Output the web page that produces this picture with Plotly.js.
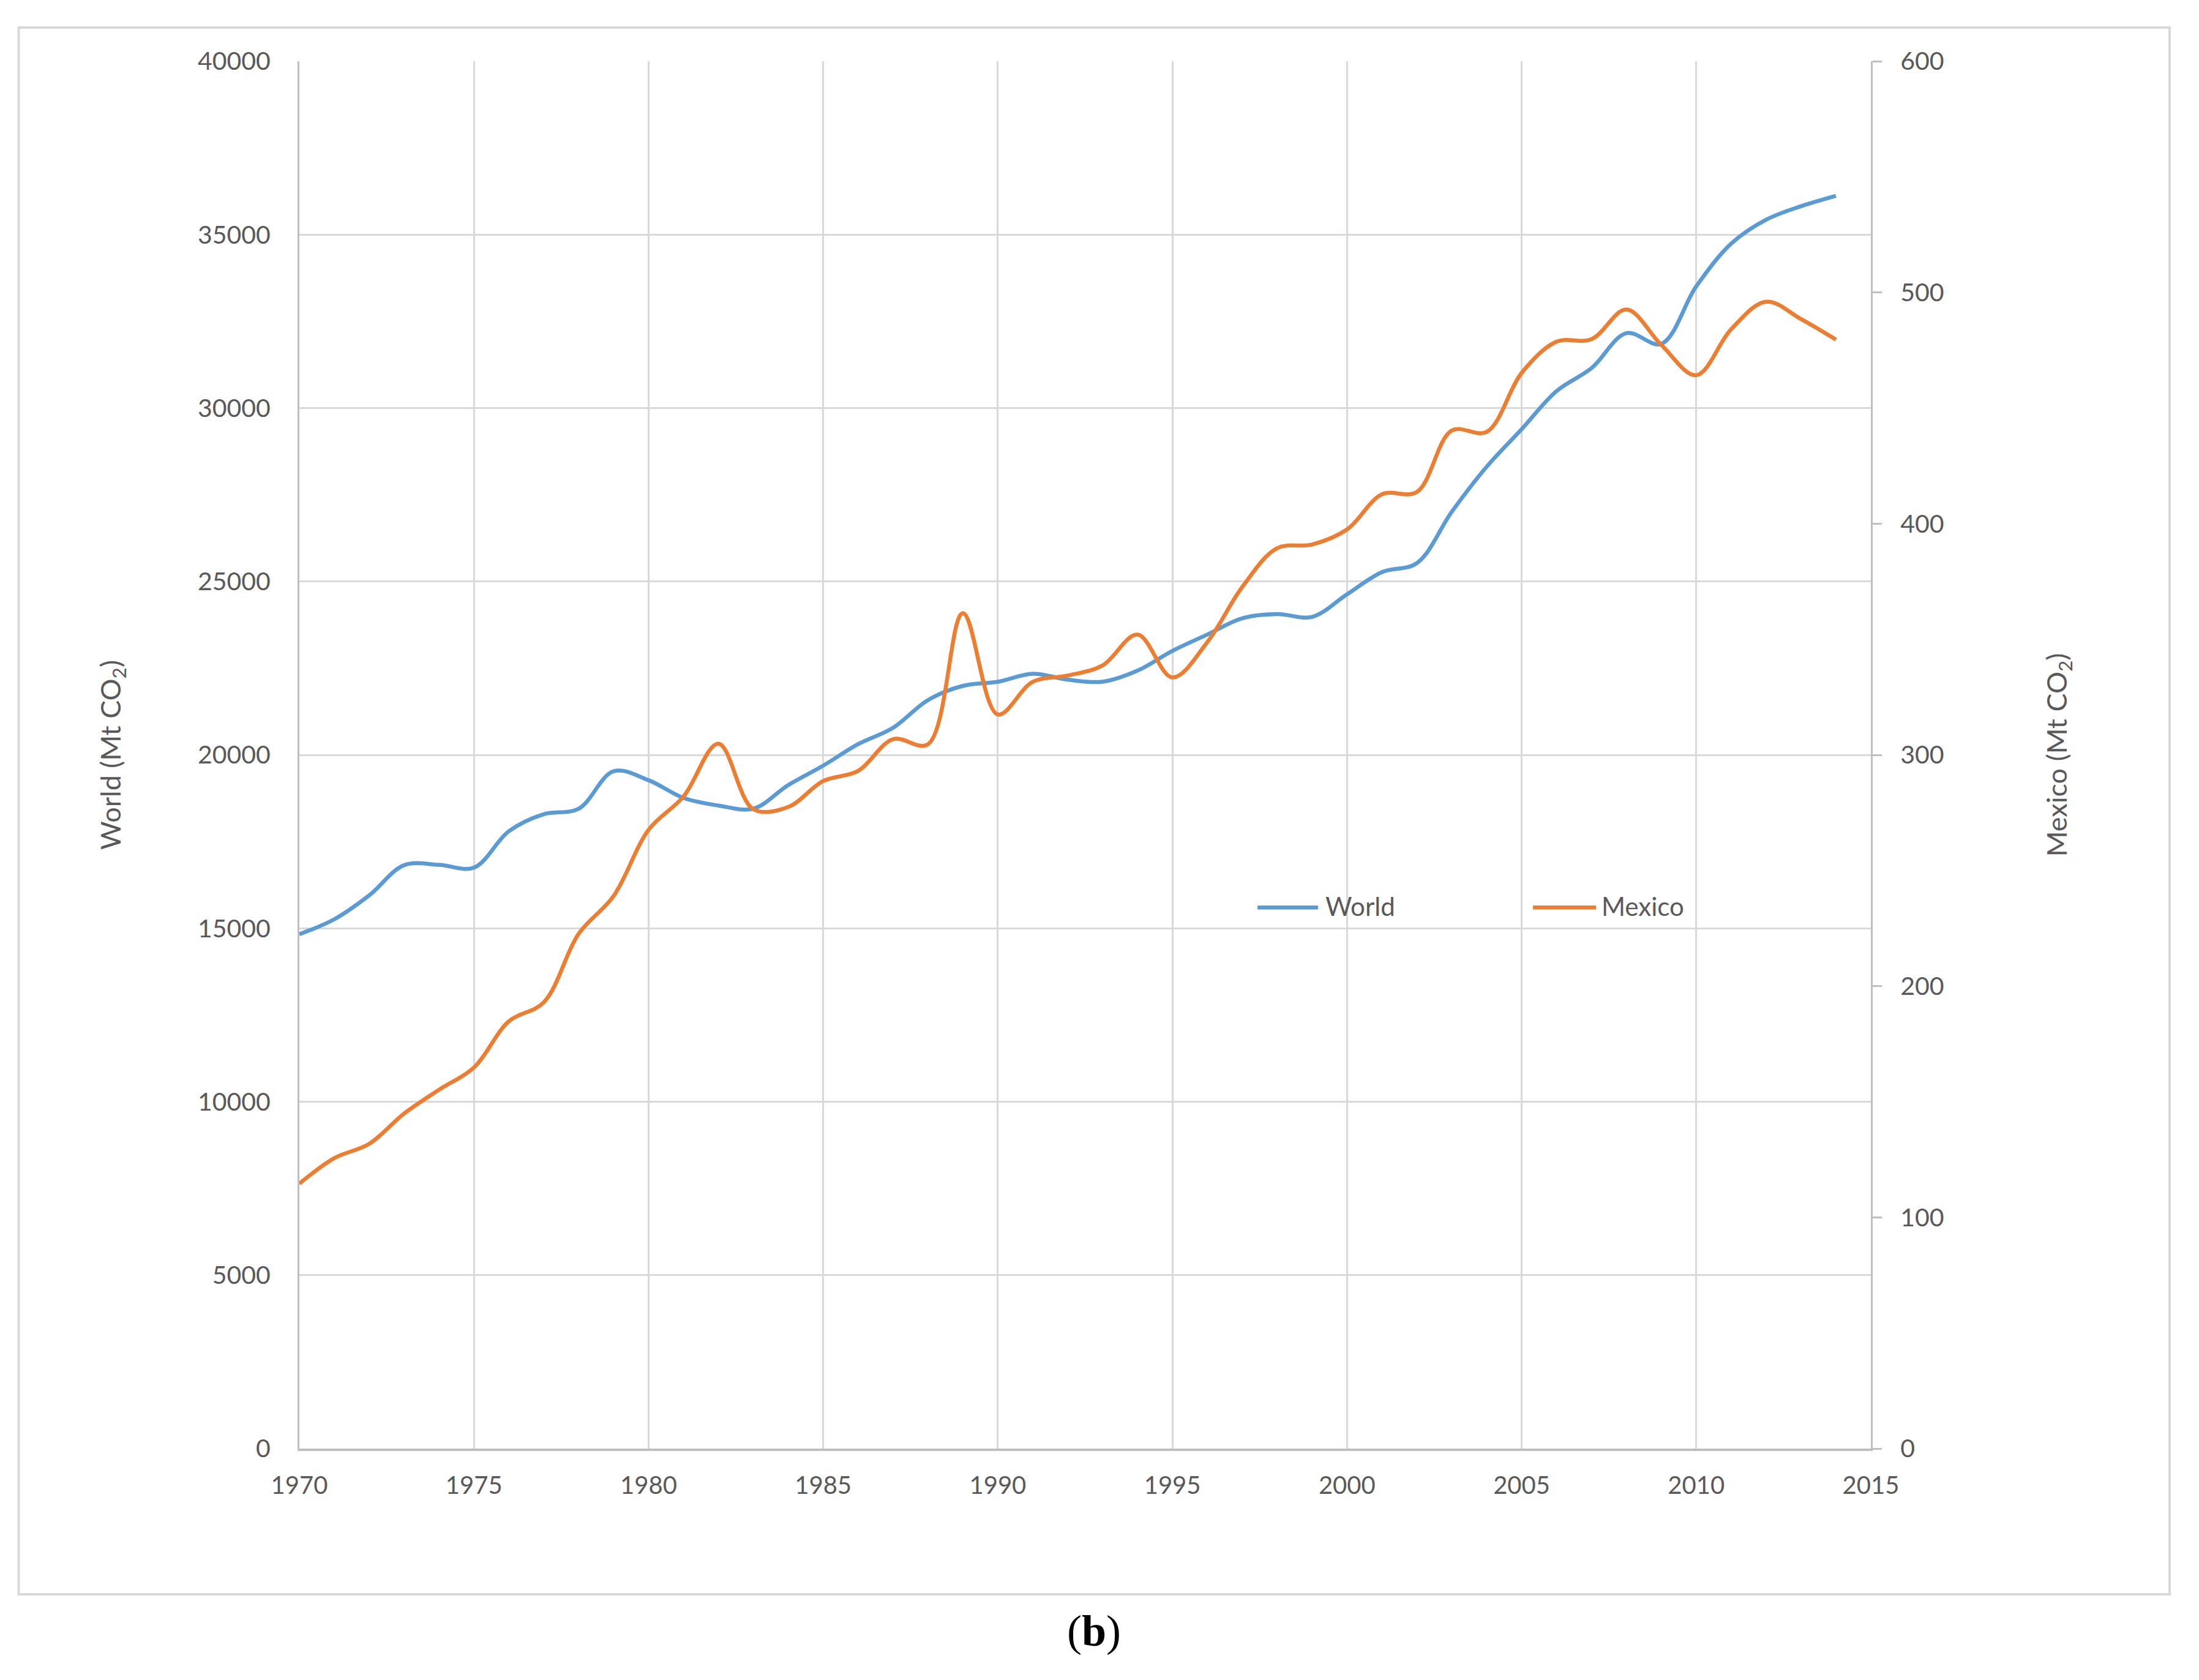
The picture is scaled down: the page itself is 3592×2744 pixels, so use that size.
<!DOCTYPE html>
<html>
<head>
<meta charset="utf-8">
<script src="https://cdn.plot.ly/plotly-3.0.1.min.js"></script>
<style>
  html, body { margin: 0; padding: 0; background: #ffffff; }
  #chart { width: 3592px; height: 2744px; }
</style>
</head>
<body>
<div id="chart"></div>
<script>
// ---- Data ----
const years = [1970, 1971, 1972, 1973, 1974, 1975, 1976, 1977, 1978, 1979,
               1980, 1981, 1982, 1983, 1984, 1985, 1986, 1987, 1988, 1989,
               1990, 1991, 1992, 1993, 1994, 1995, 1996, 1997, 1998, 1999,
               2000, 2001, 2002, 2003, 2004, 2005, 2006, 2007, 2008, 2009,
               2010, 2011, 2012, 2013, 2014];

// World emissions, Mt CO2 (left axis)
const worldValues = [14830, 15260, 15950, 16820, 16830, 16750, 17800, 18290, 18450, 19530,
                     19270, 18760, 18540, 18450, 19130, 19690, 20310, 20780, 21580, 21990,
                     22110, 22340, 22170, 22110, 22430, 23000, 23470, 23940, 24060, 23980,
                     24630, 25270, 25530, 27010, 28310, 29390, 30490, 31150, 32160, 31850,
                     33510, 34740, 35430, 35820, 36120];

// Mexico emissions, Mt CO2 (right axis)
const mexicoValues = [114.6, 125.6, 131.8, 144.9, 155.2, 164.8, 184.8, 193.0, 222.7, 239.0,
                      267.6, 282.0, 304.8, 276.5, 277.5, 288.7, 293.1, 306.8, 304.6, 361.3,
                      317.5, 331.6, 334.3, 338.7, 352.0, 333.5, 348.8, 372.6, 389.4, 391.0,
                      397.5, 412.7, 413.7, 440.3, 439.7, 465.2, 478.7, 479.8, 492.6, 477.3,
                      464.2, 484.1, 496.0, 488.5, 479.6];

const seriesNames = ['World', 'Mexico'];
const seriesColors = ['#5B9BD5', '#ED7D31'];
const leftAxisTitle = 'World (Mt CO<sub>2</sub>)';
const rightAxisTitle = 'Mexico (Mt CO<sub>2</sub>)';
const captionText = '(<b>b</b>)';

// ---- Traces ----
const traces = [
  {
    type: 'scatter', mode: 'lines', name: seriesNames[0],
    x: years, y: worldValues, yaxis: 'y',
    line: { color: seriesColors[0], width: 6.5, shape: 'spline', smoothing: 1 },
    hoverinfo: 'x+y'
  },
  {
    type: 'scatter', mode: 'lines', name: seriesNames[1],
    x: years, y: mexicoValues, yaxis: 'y2',
    line: { color: seriesColors[1], width: 6.5, shape: 'spline', smoothing: 1 },
    hoverinfo: 'x+y'
  }
];

const textColor = '#595959';
const fontFamily = 'Lato, "Open Sans", sans-serif';

// ---- Layout ----
const layout = {
  width: 3592,
  height: 2744,
  margin: { l: 489, r: 536, t: 100, b: 378, pad: 0 },
  paper_bgcolor: '#ffffff',
  plot_bgcolor: '#ffffff',
  font: { family: fontFamily, size: 40, color: textColor },
  showlegend: false,
  xaxis: {
    range: [1970, 2015],
    tickmode: 'linear', tick0: 1970, dtick: 5,
    tickformat: 'd',
    showgrid: true, gridcolor: '#d9d9d9', gridwidth: 3,
    showline: true, linecolor: '#bfbfbf', linewidth: 4,
    ticks: '', zeroline: false,
    ticklabelstandoff: 22,
    tickfont: { family: fontFamily, size: 40, color: textColor },
    automargin: false
  },
  yaxis: {
    range: [0, 40000],
    tickmode: 'linear', tick0: 0, dtick: 5000,
    tickformat: 'd',
    showgrid: true, gridcolor: '#d9d9d9', gridwidth: 3,
    showline: true, linecolor: '#bfbfbf', linewidth: 3,
    ticks: '', zeroline: false,
    ticklabelstandoff: 36,
    tickfont: { family: fontFamily, size: 41, color: textColor },
    title: { text: leftAxisTitle, standoff: 112, font: { family: fontFamily, size: 45, color: textColor } },
    automargin: false
  },
  yaxis2: {
    overlaying: 'y', side: 'right',
    range: [0, 600],
    tickmode: 'linear', tick0: 0, dtick: 100,
    tickformat: 'd',
    showgrid: false,
    showline: true, linecolor: '#bfbfbf', linewidth: 3,
    ticks: 'outside', ticklen: 15, tickwidth: 3, tickcolor: '#bfbfbf',
    zeroline: false,
    ticklabelstandoff: 22,
    tickfont: { family: fontFamily, size: 41, color: textColor },
    title: { text: rightAxisTitle, standoff: 170, font: { family: fontFamily, size: 45, color: textColor } },
    automargin: false
  },
  shapes: [
    // outer chart frame
    { type: 'rect', xref: 'paper', yref: 'paper',
      x0: -0.1786, x1: 1.1901, y0: -0.1050, y1: 1.0243,
      line: { color: '#d9d9d9', width: 4 }, fillcolor: 'rgba(0,0,0,0)', layer: 'below' },
    // legend keys
    { type: 'line', xref: 'paper', yref: 'paper',
      x0: 0.6097, x1: 0.6482, y0: 0.390, y1: 0.390,
      line: { color: seriesColors[0], width: 6.5 } },
    { type: 'line', xref: 'paper', yref: 'paper',
      x0: 0.7850, x1: 0.8251, y0: 0.390, y1: 0.390,
      line: { color: seriesColors[1], width: 6.5 } }
  ],
  annotations: [
    { xref: 'paper', yref: 'paper', x: 0.6520, y: 0.391, xanchor: 'left', yanchor: 'middle',
      text: seriesNames[0], showarrow: false,
      font: { family: fontFamily, size: 42, color: textColor } },
    { xref: 'paper', yref: 'paper', x: 0.8280, y: 0.391, xanchor: 'left', yanchor: 'middle',
      text: seriesNames[1], showarrow: false,
      font: { family: fontFamily, size: 42, color: textColor } },
    { xref: 'paper', yref: 'paper', x: 0.5056, y: -0.1315, xanchor: 'center', yanchor: 'middle',
      text: captionText, showarrow: false,
      font: { family: '"Liberation Serif", "Times New Roman", serif', size: 72, color: '#000000' } }
  ]
};

Plotly.newPlot('chart', traces, layout, { staticPlot: true, displayModeBar: false });
</script>
</body>
</html>
